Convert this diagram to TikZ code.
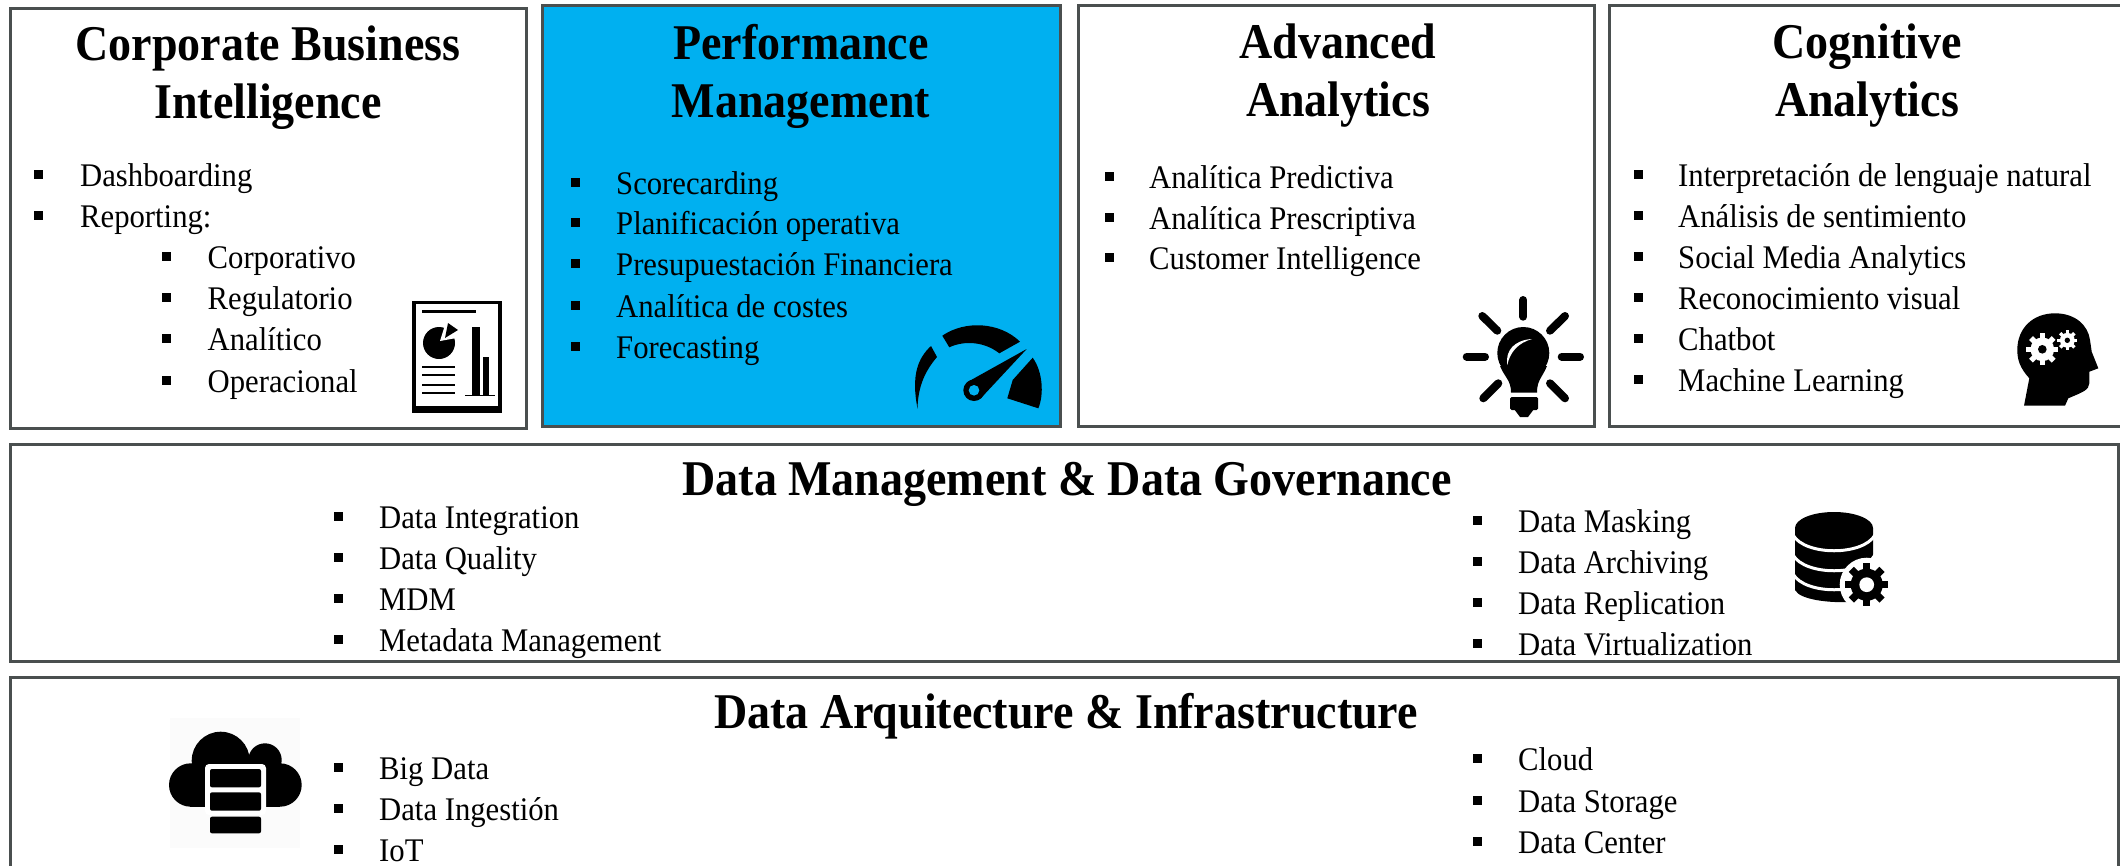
\documentclass[tikz,border=0pt]{standalone}
\usepackage{fontspec}
\setmainfont[FakeStretch=0.93]{Liberation Serif}
\newfontfamily\headfont[FakeStretch=0.92]{Liberation Serif}
\newcommand{\itemlist}[4]{%
  \foreach \ypos/\txt [count=\i] in {#4} {
    \node[bullet] (#1b\i) at (#2,\ypos-11) {};
    \node[item] (#1t\i) at (#3,\ypos+1) {\txt};
  }
}
\newcommand{\gearicon}[4]{%
  \fill (#1,#2) circle (0.74*#3);
  \foreach \a in {0,45,...,315} {
    \fill[shift={(#1,#2)},rotate=\a] (-0.17*#3,0) rectangle (0.17*#3,#3);
  }
  \fill[#4] (#1,#2) circle (0.34*#3);
}
\newcommand{\whitegear}[4]{%
  \fill[white] (#1,#2) circle (0.74*#3);
  \foreach \a in {0,45,...,315} {
    \fill[white,shift={(#1,#2)},rotate=\a] (-0.17*#3,0) rectangle (0.17*#3,#3);
  }
  \fill[#4] (#1,#2) circle (0.27*#3);
}
\definecolor{panelblue}{HTML}{00B0F0}
\definecolor{panelline}{HTML}{4A4F4F}
\begin{document}
\begin{tikzpicture}[
  x=1pt, y=-1pt,
  panel/.style = {rectangle, draw=panelline, line width=3pt, inner sep=0pt},
  heading/.style = {align=center, inner sep=0pt,
    font=\fontsize{50}{58}\headfont\bfseries},
  headingline/.style = {anchor=base, inner sep=0pt,
    font=\fontsize{50}{58}\headfont\bfseries},
  item/.style = {anchor=base west, inner sep=0pt,
    font=\fontsize{33}{38}\selectfont},
  bullet/.style = {rectangle, fill=black, inner sep=0pt, minimum size=9pt}]
\clip[use as bounding box] (0,0) rectangle (2120,865);
\node[panel, minimum width=516pt, minimum height=420pt] (corporate) at (268,218) {};
\node[panel, fill=panelblue, minimum width=518pt, minimum height=421pt] (performance) at (801,215.5) {};
\node[panel, minimum width=516pt, minimum height=421pt] (advanced) at (1336,215.5) {};
\node[panel, minimum width=520pt, minimum height=421pt] (cognitive) at (1869,215.5) {};
\node[panel, minimum width=2108pt, minimum height=217pt] (governance) at (1064,552.5) {};
\node[panel, minimum width=2108pt, minimum height=210pt] (infra) at (1064,782) {};
\node[heading] (corporatetitle) at (268,78) {Corporate Business\\Intelligence};
\node[heading] (performancetitle) at (801,76) {Performance\\Management};
\node[heading] (advancedtitle) at (1338,76) {Advanced\\Analytics};
\node[heading] (cognitivetitle) at (1867,76) {Cognitive\\Analytics};
\node[headingline] (governancetitle) at (1067,495) {Data Management \& Data Governance};
\node[headingline] (infratitle) at (1066,728) {Data Arquitecture \& Infrastructure};
\itemlist{ca}{38.5}{80}{185/Dashboarding, 226/Reporting:}
\itemlist{cb}{166}{207.5}{267/Corporativo, 308/Regulatorio, 349/Analítico, 391/Operacional}
\itemlist{pm}{575}{616}{193/Scorecarding, 233/Planificación operativa, 274/Presupuestación Financiera, 316/Analítica de costes, 357/Forecasting}
\itemlist{aa}{1109}{1149}{187/Analítica Predictiva, 228/Analítica Prescriptiva, 268/Customer Intelligence}
\itemlist{co}{1638}{1678}{185/Interpretación de lenguaje natural, 226/Análisis de sentimiento, 267/Social Media Analytics, 308/Reconocimiento visual, 349/Chatbot, 390/Machine Learning}
\itemlist{ga}{338}{379}{527/Data Integration, 568/Data Quality, 609/MDM, 650/Metadata Management}
\itemlist{gb}{1477}{1518}{531/Data Masking, 572/Data Archiving, 613/Data Replication, 654/Data Virtualization}
\itemlist{ia}{338}{379}{778/Big Data, 819/Data Ingestión, 860/IoT}
\itemlist{ib}{1477}{1518}{769/Cloud, 811/Data Storage, 852/Data Center}
\fill (412,301) rectangle (502,413);
\fill[white] (416,304) rectangle (498,406);
\fill (422,309.5) rectangle (476,312.5);
\fill (439,343) circle (16);
\fill[white] (440,341) -- (445,325) -- (462,322) -- (462,337) -- cycle;
\fill (445,338) -- (448,323) -- (458,330) -- cycle;
\foreach \ypos in {367,375,385,393} {
  \fill (422,\ypos-1.2) rectangle (455,\ypos+1.2);
}
\fill (472,327) rectangle (480,395);
\fill (483,357) rectangle (489,395);
\fill (465,394.5) rectangle (495,395.5);
\fill (917.5,408.5) .. controls (911,375) and (918,358) .. (931,346) -- (937,357) .. controls (926,370) and (918,385) .. cycle;
\fill (942.3,335.7) .. controls (965,320) and (1000,322) .. (1020,341.7) -- (999.3,353.3) .. controls (985,342) and (965,340) .. (949.3,347.3) -- cycle;
\fill (1032.7,357.7) .. controls (1043,372) and (1044,395) .. (1038.3,408.3) -- (1007.3,398.3) -- (1012.7,380) -- cycle;
\fill (974,390.3) circle (10.7);
\fill (1026.7,349) -- (980.5,398.6) -- (967.5,382) -- cycle;
\fill[panelblue] (974,390.3) circle (5.3);
\foreach \xa/\ya/\xb/\yb in {1523.3/300/1523.3/316.7, 1466.7/356.7/1485/356.7, 1561.7/356.7/1580/356.7,
  1482.3/316/1497.3/330.7, 1565/316/1550/330.7, 1498.3/383.3/1483.3/398.3, 1550/383.3/1565/398.3} {
  \draw[line width=8pt, line cap=round] (\xa,\ya) -- (\xb,\yb);
}
\fill (1523.3,353) circle (26);
\fill (1500,366) .. controls (1505,378) and (1511,380) .. (1511,392.7) -- (1537,392.7) .. controls (1537,380) and (1542,378) .. (1547,366) -- cycle;
\fill[white] (1507.3,365) .. controls (1505,350) and (1515,340) .. (1532,339) .. controls (1518,343) and (1510,352) .. cycle;
\fill[rounded corners=1.5pt] (1510,397) rectangle (1538,410);
\fill (1514,409) -- (1534,409) -- (1528,417) -- (1520,417) -- cycle;
\fill (2024,405.7) -- (2029.3,378.3) .. controls (2020,368) and (2017.3,360) .. (2017.3,350) .. controls (2017.3,328) and (2033,313.3) .. (2055,313.3) .. controls (2075,313.3) and (2088,325) .. (2090,340) -- (2091.7,351.7) -- (2098.3,368.3) -- (2089.3,371.7) -- (2089.3,383.3) .. controls (2089,390) and (2083,392) .. (2068.3,398.3) -- (2065,405.7) -- cycle;
\whitegear{2042.3}{349.3}{16}{black}
\whitegear{2067.3}{340.3}{10}{black}
\fill (1795,528) -- (1795,590) .. controls (1800,600) and (1830,603) .. (1850,602) -- (1873,590) -- (1873,528) -- cycle;
\fill (1834,528) ellipse [x radius=39, y radius=16];
\foreach \ypos in {535,555,574} {
  \draw[white, line width=3pt] (1793,\ypos) .. controls (1805,\ypos+21) and (1863,\ypos+21) .. (1875,\ypos);
}
\fill[white] (1866.7,584.7) circle (27);
\gearicon{1866.7}{584.7}{21.7}{white}
\fill[black!1.5] (170,718) rectangle (300,848);
\fill (190.7,785) circle (21.7);
\fill (220.7,760.7) circle (29);
\fill (265,760) circle (16.7);
\fill (280,785) circle (21.7);
\fill (190,765) rectangle (280,806.7);
\fill[white, rounded corners=4pt] (205,764) rectangle (266,815);
\fill[rounded corners=2pt] (210,769) rectangle (261,787.3);
\fill[rounded corners=2pt] (210,792.3) rectangle (261,810.7);
\fill[rounded corners=2pt] (210,816.7) rectangle (261,833.3);
\end{tikzpicture}
\end{document}
